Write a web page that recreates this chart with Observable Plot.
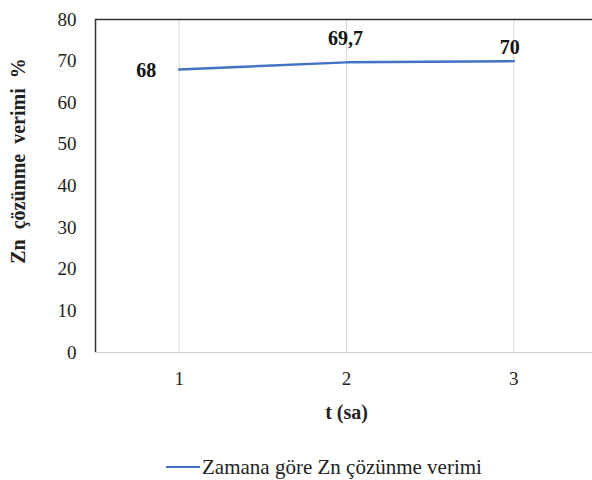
<!DOCTYPE html>
<html><head><meta charset="utf-8">
<script src="https://cdn.jsdelivr.net/npm/d3@7"></script>
<script src="https://cdn.jsdelivr.net/npm/@observablehq/plot@0.6"></script>
<style>
body{margin:0;background:#fff;font-family:"Liberation Serif","Times New Roman",serif;}
#legend{height:54px;display:flex;align-items:center;justify-content:center;font-size:21px;color:#222;margin-left:56px}
#legend span.sw{display:inline-block;width:34px;height:2.5px;background:#4472C4;margin-right:2px}
</style></head><body>
<div id="chart"></div>
<div id="legend"><span class="sw"></span><span>Zamana göre Zn çözünme verimi</span></div>
<script>
const times = [1, 2, 3];
const yields = [68, 69.7, 70];
const labels = ["68", "69,7", "70"];
const yTicks = [0, 10, 20, 30, 40, 50, 60, 70, 80];
const xTitle = "t (sa)";
const yTitle = "Zn  çözünme  verimi  %";

const data = times.map((t, i) => ({t, v: yields[i], lab: labels[i]}));
const FF = "'Liberation Serif', 'Times New Roman', serif";

const chart = Plot.plot({
  width: 592, height: 440,
  marginLeft: 95, marginRight: 0, marginTop: 19, marginBottom: 88,
  style: {fontFamily: FF, fontSize: "19px", color: "#222", background: "#fff"},
  x: {domain: [0.5, 3.47], axis: null},
  y: {domain: [0, 80], axis: null},
  marks: [
    Plot.ruleX(times, {y1: 0, y2: 80, stroke: "#d9d9d9", strokeWidth: 1}),
    Plot.ruleY([0], {stroke: "#d0d0d0", strokeWidth: 1}),
    Plot.ruleY([80], {stroke: "#333", strokeWidth: 1.5}),
    Plot.ruleX([0.5], {y1: 0, y2: 80, stroke: "#333", strokeWidth: 1.5}),
    Plot.axisY({ticks: yTicks, tickSize: 0, tickPadding: 19, fontSize: 19, fontFamily: FF, fill: "#222", label: null}),
    Plot.axisX({ticks: times, tickFormat: "d", tickSize: 0, tickPadding: 19, fontSize: 19, fontFamily: FF, fill: "#222", label: null}),
    Plot.text([xTitle], {frameAnchor: "bottom", x: 2, dy: 66, fontWeight: "bold", fontSize: 20, fontFamily: FF, fill: "#222"}),
    Plot.text([yTitle], {frameAnchor: "left", textAnchor: "middle", dx: -77, dy: -25, rotate: -90, fontWeight: "bold", fontSize: 20, fontFamily: FF, fill: "#222"}),
    Plot.line(data, {x: "t", y: "v", stroke: "#4472C4", strokeWidth: 2.5}),
    Plot.text(data.slice(0, 1), {x: "t", y: "v", text: "lab", dx: -33, dy: 1, fontWeight: "bold", fontSize: 20, fontFamily: FF, fill: "#111"}),
    Plot.text(data.slice(1, 2), {x: "t", y: "v", text: "lab", dx: -1, dy: -24, fontWeight: "bold", fontSize: 20, fontFamily: FF, fill: "#111"}),
    Plot.text(data.slice(2, 3), {x: "t", y: "v", text: "lab", dx: -4, dy: -14, fontWeight: "bold", fontSize: 20, fontFamily: FF, fill: "#111"})
  ]
});
document.getElementById("chart").appendChild(chart);
</script>
</body></html>
